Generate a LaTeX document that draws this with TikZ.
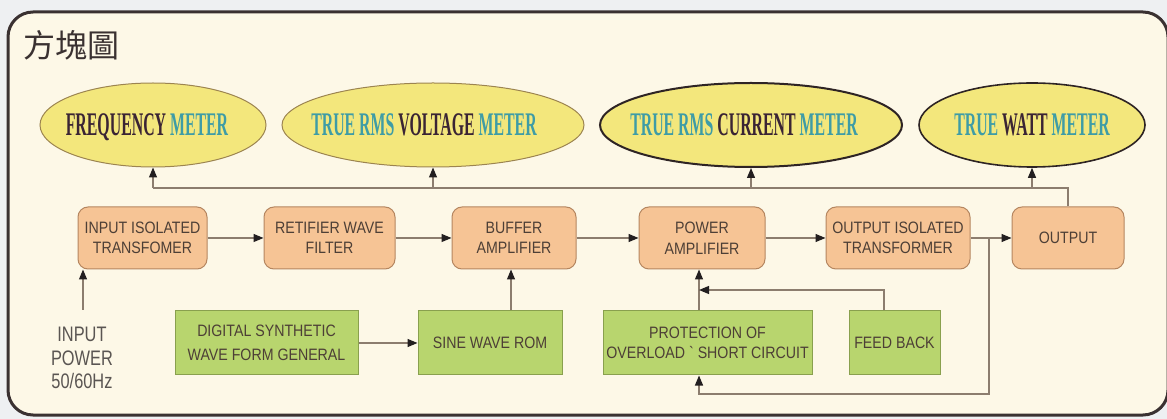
\documentclass[tikz,border=0pt]{standalone}
\usepackage{fontspec}
\setmainfont{Liberation Sans}
\newfontfamily\cjkfont{Noto Sans CJK TC}
\newfontfamily\meterfont[FakeStretch=0.48]{Liberation Serif Bold}
\newfontfamily\boxfont[FakeStretch=0.86]{Liberation Sans}
\newfontfamily\inpfont[FakeStretch=0.78]{Liberation Sans}
\usetikzlibrary{shapes.geometric,arrows.meta}
\definecolor{bgC}{HTML}{EEF0F2}
\definecolor{cream}{HTML}{FDF8E7}
\definecolor{frameC}{HTML}{3A3131}
\definecolor{yfill}{HTML}{F3E77C}
\definecolor{thinE}{HTML}{9C8450}
\definecolor{darkE}{HTML}{2E2424}
\definecolor{ofill}{HTML}{F6C495}
\definecolor{obord}{HTML}{B58660}
\definecolor{gfill}{HTML}{B8D56E}
\definecolor{gbord}{HTML}{89A04E}
\definecolor{lineC}{HTML}{8C7D6E}
\definecolor{arrC}{HTML}{231F20}
\definecolor{txtC}{HTML}{4D3F36}
\definecolor{inpC}{HTML}{5A5552}
\definecolor{darkT}{HTML}{3A2434}
\definecolor{tealT}{HTML}{3E9CA6}
\begin{document}
\begin{tikzpicture}[x=1pt,y=-1pt,
  conn/.style={draw=lineC, line width=1.2pt},
  arr/.style={-{Triangle[length=10pt,width=8pt,color=arrC]}},
  obox/.style={draw=obord, fill=ofill, line width=1pt, rounded corners=10pt,
    minimum height=62pt, inner sep=0pt, align=center, text=txtC,
    font=\boxfont\fontsize{16.5}{20.5}\selectfont},
  gbox/.style={draw=gbord, fill=gfill, line width=1pt,
    minimum height=64pt, inner sep=0pt, align=center, text=txtC,
    font=\boxfont\fontsize{16.5}{20.5}\selectfont},
  meter/.style={ellipse, fill=yfill, minimum height=84pt, inner sep=0pt},
  mtext/.style={font=\meterfont\fontsize{33}{33}\selectfont, text height=22pt, text depth=0pt, inner sep=0pt},
]
\useasboundingbox (0,0) rectangle (1167,419);
\fill[bgC] (0,0) rectangle (1167,419);
\draw[line width=3pt, draw=frameC, fill=cream, rounded corners=25pt] (8,12) rectangle (1168,415);
\node[anchor=west, inner sep=0pt, text=frameC, font=\cjkfont\fontsize{32}{32}\selectfont] (title) at (23,45) {方塊圖};

% meters
\node[meter, draw=thinE, line width=1pt, minimum width=226pt,
  label={[mtext, xshift=-6pt]center:{\color{darkT}FREQUENCY \color{tealT}METER}}] (e1) at (153,125) {};
\node[meter, draw=thinE, line width=1pt, minimum width=302pt,
  label={[mtext, xshift=-9pt]center:{\color{tealT}TRUE RMS \color{darkT}VOLTAGE \color{tealT}METER}}] (e2) at (433,125) {};
\node[meter, draw=darkE, line width=2pt, minimum width=302pt,
  label={[mtext, xshift=-7pt]center:{\color{tealT}TRUE RMS \color{darkT}CURRENT \color{tealT}METER}}] (e3) at (751,125) {};
\node[meter, draw=darkE, line width=1.6pt, minimum width=226pt,
  label={[mtext, xshift=0pt]center:{\color{tealT}TRUE \color{darkT}WATT \color{tealT}METER}}] (e4) at (1032,125) {};

% main chain
\node[obox, minimum width=129pt] (t1) at (142.5,238) {INPUT ISOLATED\\TRANSFOMER};
\node[obox, minimum width=131pt] (t2) at (329.5,238) {RETIFIER WAVE\\FILTER};
\node[obox, minimum width=124pt] (t3) at (514,238) {BUFFER\\AMPLIFIER};
\node[obox, minimum width=126pt] (t4) at (702,238) {POWER\\AMPLIFIER};
\node[obox, minimum width=144pt] (t5) at (898,238) {OUTPUT ISOLATED\\TRANSFORMER};
\node[obox, minimum width=112pt] (t6) at (1068,238) {OUTPUT};

% green blocks
\node[gbox, minimum width=183pt, font=\boxfont\fontsize{16.5}{24}\selectfont] (g1) at (266.5,343) {DIGITAL SYNTHETIC\\WAVE FORM GENERAL};
\node[gbox, minimum width=144pt] (g2) at (490,343) {SINE WAVE ROM};
\node[gbox, minimum width=209pt] (g3) at (707.5,343) {PROTECTION OF\\OVERLOAD ` SHORT CIRCUIT};
\node[gbox, minimum width=91pt] (g4) at (894.5,343) {FEED BACK};

% input power
\node[inner sep=0pt, align=center, text=inpC, font=\inpfont\fontsize{21}{23.5}\selectfont] (ip) at (82,358) {INPUT\\POWER\\50/60Hz};
\coordinate (ipT) at (83,310);
\draw[conn,arr] (ipT) -- (ipT |- t1.south);

% chain arrows
\draw[conn,arr] (t1) -- (t2);
\draw[conn,arr] (t2) -- (t3);
\draw[conn,arr] (t3) -- (t4);
\draw[conn,arr] (t4) -- (t5);
\draw[conn,arr] (t5) -- (t6);

% top bus
\coordinate (bus) at (153,188);
\draw[conn] (t6.north) -- (t6.north |- bus) -- (bus);
\draw[conn,arr] (e1.south |- bus) -- (e1.south);
\draw[conn,arr] (e2.south |- bus) -- (e2.south);
\draw[conn,arr] (e3.south |- bus) -- (e3.south);
\draw[conn,arr] (e4.south |- bus) -- (e4.south);

% lower connections
\draw[conn,arr] (g1) -- (g2);
\coordinate (sx) at (511,0);
\draw[conn,arr] (sx |- g2.north) -- (sx |- t3.south);
\coordinate (pb) at (699,394);
\draw[conn,arr] (pb |- g3.north) -- (pb |- t4.south);
\coordinate (fbT) at (884,290);
\draw[conn,arr] (fbT |- g4.north) -- (fbT) -- (pb |- fbT);
\coordinate (j) at (989,238);
\draw[conn,arr] (j) |- (pb) -- (pb |- g3.south);
\end{tikzpicture}
\end{document}
